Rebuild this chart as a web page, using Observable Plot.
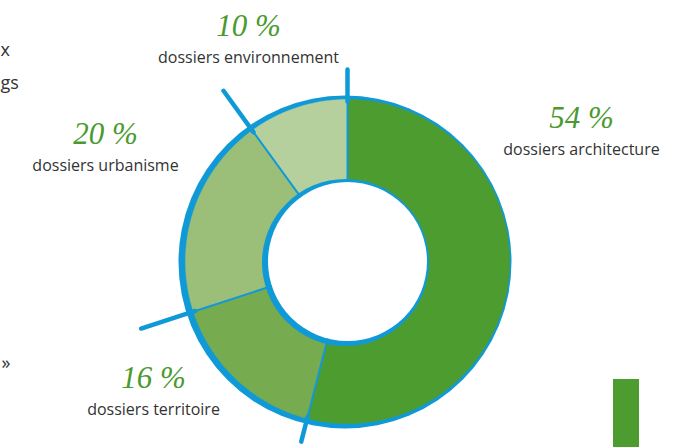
<!DOCTYPE html>
<html>
<head>
<meta charset="utf-8">
<script src="https://cdn.jsdelivr.net/npm/d3@7"></script>
<script src="https://cdn.jsdelivr.net/npm/@observablehq/plot@0.6"></script>
<style>
  html, body { margin: 0; padding: 0; background: #fff; overflow: hidden; }
  #wrap { position: relative; width: 691px; height: 447px; }
  #deco { position: absolute; left: 613px; top: 379px; width: 26px; height: 68px; background: #4c9c30; }
</style>
</head>
<body>
<div id="wrap"><div id="chart"></div><div id="deco"></div></div>
<script>
// ---- data ----
const categories = ["dossiers architecture", "dossiers territoire", "dossiers urbanisme", "dossiers environnement"];
const values = [54, 16, 20, 10];
const percentLabels = ["54 %", "16 %", "20 %", "10 %"];
const fragments = ["x", "gs", "»"];

// ---- styles / layout ----
const colors = ["#4c9c2f", "#77ab4f", "#9bbf78", "#b6d09d"];
const blue = "#0f9ad7";
const center = {x: 347, y: 261};
const rOuter = 162, rHole = 79.5;
const ringBack = {x: 344.5, y: 261.5, r: 166.5};
const innerRing = {x: 345, y: 262, r: 83.5};
const lineReach = [192, 186, 217, 211]; // radial separator length at start of each slice
const labelPos = [{x: 581, y: 127}, {x: 153, y: 387}, {x: 105, y: 143}, {x: 248, y: 35}];
const fragmentPos = [{x: 0, y: 55}, {x: 0, y: 88}, {x: 1, y: 368}];

const pie = d3.pie().sort(null).value(d => d)(values);
const pt = (a, r, c = center) => ({x: c.x + r * Math.sin(a), y: c.y - r * Math.cos(a)});

const sliceMarks = pie.map((p, i) => {
  const pts = [pt(0, 0)];
  const n = Math.max(8, Math.ceil((p.endAngle - p.startAngle) / 0.01));
  for (let k = 0; k <= n; k++) pts.push(pt(p.startAngle + (p.endAngle - p.startAngle) * k / n, rOuter));
  pts.push(pt(0, 0));
  return Plot.line(pts, {x: "x", y: "y", fill: colors[i], stroke: colors[i], strokeWidth: 0.5, curve: "linear"});
});

const seps = pie.map((p, i) => {
  const a = p.startAngle;
  const s = pt(a, rHole), m = pt(a, rOuter - 2), e = pt(a, lineReach[i]);
  return {sx: s.x, sy: s.y, mx: m.x, my: m.y, ex: e.x, ey: e.y};
});

const labels = pie.map((p, i) => ({pct: percentLabels[i], cat: categories[i], x: labelPos[i].x, y: labelPos[i].y}));
const frags = fragments.map((t, i) => ({t, x: fragmentPos[i].x, y: fragmentPos[i].y}));

const chart = Plot.plot({
  width: 691,
  height: 447,
  margin: 0,
  x: {domain: [0, 691], range: [0, 691], axis: null},
  y: {domain: [0, 447], range: [0, 447], axis: null},
  style: {background: "#fff", overflow: "hidden"},
  marks: [
    Plot.dot([ringBack], {x: "x", y: "y", r: ringBack.r, fill: blue, stroke: "none"}),
    ...sliceMarks,
    Plot.dot([innerRing], {x: "x", y: "y", r: innerRing.r, fill: blue, stroke: "none"}),
    Plot.dot([center], {x: "x", y: "y", r: rHole, fill: "#fff", stroke: "none"}),
    Plot.link(seps, {x1: "sx", y1: "sy", x2: "mx", y2: "my", stroke: blue, strokeWidth: 2}),
    Plot.link(seps, {x1: "mx", y1: "my", x2: "ex", y2: "ey", stroke: blue, strokeWidth: 4.5, strokeLinecap: "round"}),
    Plot.text(labels, {x: "x", y: "y", text: "pct", textAnchor: "middle", lineAnchor: "bottom",
      fill: "#4a9a2f", fontSize: 31, fontStyle: "italic", fontFamily: "Liberation Serif"}),
    Plot.text(labels, {x: "x", y: "y", dy: 27, text: "cat", textAnchor: "middle", lineAnchor: "bottom",
      fill: "#333", fontSize: 16, fontFamily: "Open Sans"}),
    Plot.text(frags, {x: "x", y: "y", text: "t", textAnchor: "start", lineAnchor: "bottom",
      fill: "#333", fontSize: 18, fontFamily: "Open Sans"})
  ]
});
document.getElementById("chart").appendChild(chart);
</script>
</body>
</html>
